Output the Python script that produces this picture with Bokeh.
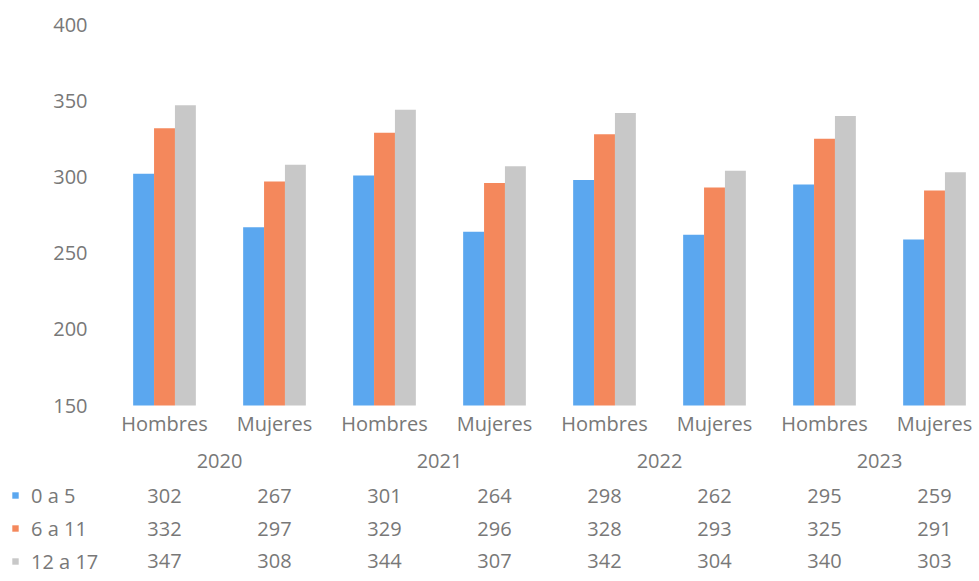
from bokeh.plotting import figure
from bokeh.models import ColumnDataSource, Legend, LegendItem, Range1d
from bokeh.transform import dodge
from bokeh.embed import file_html
from bokeh.resources import INLINE
from bokeh.core.properties import value

# ---- data ----
years = ["2020", "2021", "2022", "2023"]
sexes = ["Hombres", "Mujeres"]
series_names = ["0 a 5", "6 a 11", "12 a 17"]
v_0_5 = [302, 267, 301, 264, 298, 262, 295, 259]
v_6_11 = [332, 297, 329, 296, 328, 293, 325, 291]
v_12_17 = [347, 308, 344, 307, 342, 304, 340, 303]
y_ticks = [150, 200, 250, 300, 350, 400]

# ---- style / layout ----
colors = ["#5ba7ef", "#f4885c", "#c8c8c8"]
txt_color = "#787878"
font = "Open Sans"
fsize = "20px"
base = 150

# category slots (one per year/sex pair) on a linear x scale
cat_labels = [s for y in years for s in sexes]
cat_x = [i + 0.5 for i in range(len(cat_labels))]
year_x = [2 * i + 1.0 for i in range(len(years))]

p = figure(width=975, height=577,
           x_range=Range1d(-0.99091, 7.8727), y_range=Range1d(37.14, 415.75),
           output_backend="svg", toolbar_location=None,
           x_axis_location=None, y_axis_location=None,
           min_border_left=0, min_border_right=0, min_border_top=0,
           min_border_bottom=0)
p.outline_line_color = None
p.grid.visible = False
p.background_fill_color = "white"
p.border_fill_color = "white"

text_kw = dict(text_baseline="middle", text_font=value(font),
               text_font_size=fsize, text_color=txt_color)

# value-axis tick labels
p.text(x=[-0.2] * len(y_ticks), y=y_ticks, text=[str(t) for t in y_ticks],
       text_align="right", **text_kw)

src = ColumnDataSource(dict(x=cat_x, a=v_0_5, b=v_6_11, c=v_12_17))
offsets = [-0.19, 0.0, 0.19]
renderers = []
for col, off, c in zip(["a", "b", "c"], offsets, colors):
    r = p.vbar(x=dodge("x", off), top=col, bottom=base,
               width=0.19, fill_color=c, line_color=None, source=src)
    renderers.append(r)

legend = Legend(items=[LegendItem(label=n, renderers=[r])
                       for n, r in zip(series_names, renderers)],
                location=(11, 2.5), orientation="vertical",
                glyph_width=8, glyph_height=8, label_height=27, spacing=6,
                label_standoff=12, padding=0, margin=0,
                border_line_color=None, background_fill_alpha=0,
                label_text_font=font, label_text_font_size=fsize,
                label_text_color=txt_color)
p.add_layout(legend, "center")

# category labels, year labels, table rows (y in data units below the baseline)
cat_y, year_y = 138.19, 113.91
row_ys = [90.94, 69.29, 47.64]

p.text(x=cat_x, y=[cat_y] * len(cat_x), text=cat_labels, text_align="center", **text_kw)
p.text(x=year_x, y=[year_y] * len(year_x), text=years, text_align="center", **text_kw)
for vals, ry in zip([v_0_5, v_6_11, v_12_17], row_ys):
    p.text(x=cat_x, y=[ry] * len(cat_x), text=[str(v) for v in vals],
           text_align="center", **text_kw)

open("out.html", "w").write(file_html(p, INLINE))
